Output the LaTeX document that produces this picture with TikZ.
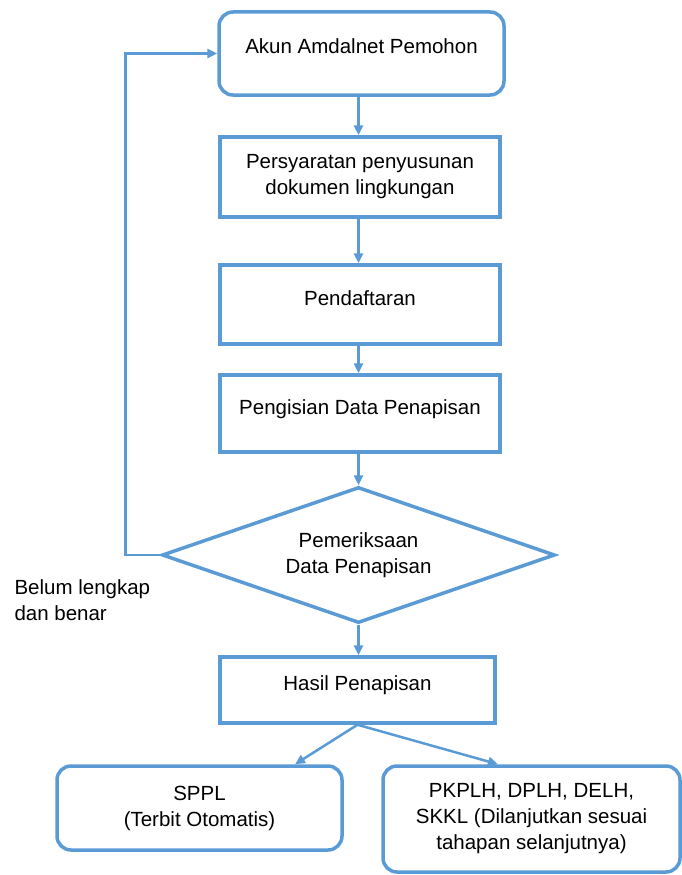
\documentclass[tikz,border=0pt]{standalone}
\usepackage{fontspec}
\setmainfont{Liberation Sans}
\usepackage{tikz}
\usetikzlibrary{shapes.geometric,arrows.meta}
\definecolor{flowblue}{RGB}{91,155,213}

\begin{document}
\begin{tikzpicture}[>={Triangle[length=10pt,width=9pt]}, x=1pt, y=-1pt,
  box/.style={draw=flowblue, line width=3.5pt, align=center, font=\fontsize{20.5}{26}\selectfont},
  rbox/.style={box, rounded corners=14pt},
  raised/.style={text height=15pt, text depth=14pt},
  arr/.style={->, draw=flowblue, line width=2.5pt}]
  \useasboundingbox (0,0) rectangle (682,875);
  \node[rbox, raised, minimum width=285pt, minimum height=83pt] (akun) at (361.5,53.5) {Akun Amdalnet Pemohon};
  \node[box, minimum width=280pt, minimum height=80pt] (pers) at (360,177) {Persyaratan penyusunan\\dokumen lingkungan};
  \node[box, raised, minimum width=280pt, minimum height=79pt] (pend) at (360,304.5) {Pendaftaran};
  \node[box, raised, minimum width=280pt, minimum height=77pt] (peng) at (360,413.5) {Pengisian Data Penapisan};
  \node[box, diamond, shape aspect=2.9, inner sep=0pt, minimum width=393pt, minimum height=136pt] (dia) at (358.5,555) {Pemeriksaan\\Data Penapisan};
  \node[box, raised, minimum width=275pt, minimum height=66pt] (hasil) at (357.5,690) {Hasil Penapisan};
  \node[rbox, minimum width=285pt, minimum height=84pt] (sppl) at (199.5,808) {SPPL\\(Terbit Otomatis)};
  \node[rbox, minimum width=297pt, minimum height=106pt] (pkplh) at (531.5,819) {PKPLH, DPLH, DELH,\\SKKL (Dilanjutkan sesuai\\tahapan selanjutnya)};
  \node[align=left, anchor=west, font=\fontsize{20.5}{26}\selectfont] (belum) at (11,600) {Belum lengkap\\dan benar};
  % alur utama
  \draw[arr] (akun.south -| dia) -- (pers.north -| dia);
  \draw[arr] (pers.south -| dia) -- (pend.north -| dia);
  \draw[arr] (pend.south -| dia) -- (peng.north -| dia);
  \draw[arr] (peng.south -| dia) -- (dia.north);
  \draw[arr] (dia.south) -- (hasil.north -| dia);
  % kembali ke akun
  \draw[arr] (dia.west) -- ++(-35,0) |- (akun.west);
  \draw[arr] (hasil.south) -- ([xshift=95.5pt]sppl.north);
  \draw[arr] (hasil.south) -- ([xshift=-33.5pt]pkplh.north);
\end{tikzpicture}
\end{document}
